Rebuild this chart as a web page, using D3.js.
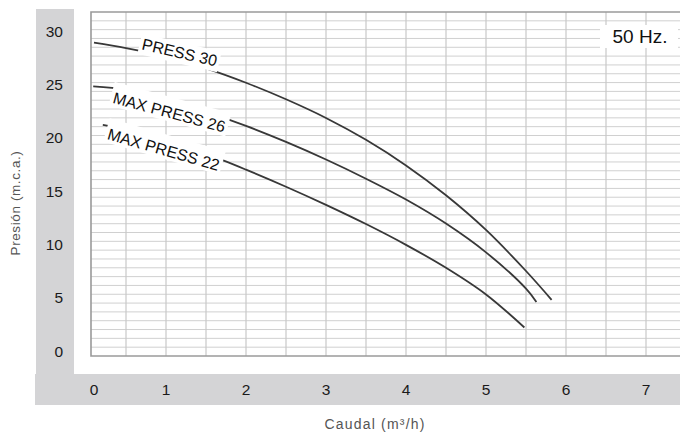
<!DOCTYPE html>
<html>
<head>
<meta charset="utf-8">
<script src="https://cdn.jsdelivr.net/npm/d3@7"></script>
<style>
  body { margin: 0; background: #fff; }
  svg { display: block; font-family: "Liberation Sans", Arial, Helvetica, sans-serif; }
</style>
</head>
<body>
<svg id="chart" width="680" height="433"></svg>
<script>
// caudal (m3/h) y presion (m.c.a.)
var flowPress30 = [0.1, 0.5, 1.0, 1.5, 2.0, 2.5, 3.0, 3.5, 4.0, 4.5, 5.0, 5.5, 5.82];
var headPress30 = [28.9, 28.4, 27.6, 26.5, 25.15, 23.6, 21.85, 19.8, 17.4, 14.6, 11.35, 7.5, 4.8];

var flowMax26 = [0.09, 0.5, 1.0, 1.5, 2.0, 2.5, 3.0, 3.5, 4.0, 4.5, 5.0, 5.5, 5.63];
var headMax26 = [24.8, 24.5, 23.6, 22.45, 21.1, 19.6, 17.95, 16.15, 14.2, 11.95, 9.25, 5.85, 4.6];

var flowMax22 = [0.21, 0.5, 1.0, 1.5, 2.0, 2.5, 3.0, 3.5, 4.0, 4.5, 5.0, 5.48];
var headMax22 = [21.2, 20.8, 19.8, 18.5, 17.0, 15.4, 13.7, 11.9, 9.95, 7.8, 5.3, 2.2];

var seriesNames = ["PRESS 30", "MAX PRESS 26", "MAX PRESS 22"];
var xTicks = [0, 1, 2, 3, 4, 5, 6, 7];
var yTicks = [0, 5, 10, 15, 20, 25, 30];

var svg = d3.select("#chart");
var W = 680, plotLeft = 91, plotTop = 12, plotBottom = 356;

var x = d3.scaleLinear().domain([0, 7]).range([86, 646]);
var y = d3.scaleLinear().domain([0, 30]).range([351, 31]);
// the printed grid has 39 rows, not tied to the tick values
var gridY = d3.scaleLinear().domain([0, 39]).range([plotBottom, plotTop]);

// grey L-shaped band for the tick labels
svg.append("rect").attr("x", 36).attr("y", 9).attr("width", 38).attr("height", 365).attr("fill", "#d4d4d6");
svg.append("rect").attr("x", 35).attr("y", 374).attr("width", W - 35).attr("height", 31).attr("fill", "#d4d4d6");

var g = svg.append("g");

// grid
g.selectAll(".hgrid")
    .data(d3.range(1, 39))
    .enter().append("line")
    .attr("x1", plotLeft).attr("x2", W)
    .attr("y1", function(d) { return gridY(d); })
    .attr("y2", function(d) { return gridY(d); })
    .attr("stroke", "#d0d0d0").attr("stroke-width", 1);

g.selectAll(".vgrid")
    .data(d3.range(0.5, 7.01, 0.5))
    .enter().append("line")
    .attr("x1", function(d) { return x(d); })
    .attr("x2", function(d) { return x(d); })
    .attr("y1", plotTop).attr("y2", plotBottom)
    .attr("stroke", "#c8c8c8").attr("stroke-width", 1.2);

// frame (no right side)
g.append("path")
    .attr("d", "M" + W + "," + plotTop + "H" + plotLeft + "V" + plotBottom + "H" + W)
    .attr("fill", "none").attr("stroke", "#9a9a9a").attr("stroke-width", 1.6);

// tick labels
svg.selectAll(".ylab")
    .data(yTicks)
    .enter().append("text")
    .attr("x", 63)
    .attr("y", function(d) { return y(d); })
    .attr("dy", "0.36em")
    .attr("text-anchor", "end")
    .attr("font-size", 15.5)
    .attr("fill", "#1a1a1a")
    .text(function(d) { return d; });

svg.selectAll(".xlab")
    .data(xTicks)
    .enter().append("text")
    .attr("x", function(d) { return Math.max(x(d), 94); })
    .attr("y", 395)
    .attr("text-anchor", "middle")
    .attr("font-size", 15.5)
    .attr("fill", "#1a1a1a")
    .text(function(d) { return d; });

// axis titles
svg.append("text")
    .attr("transform", "translate(20,203) rotate(-90)")
    .attr("text-anchor", "middle")
    .attr("font-size", 13.5)
    .attr("letter-spacing", 0.6)
    .attr("fill", "#555")
    .text("Presión (m.c.a.)");

svg.append("text")
    .attr("x", 375).attr("y", 429)
    .attr("text-anchor", "middle")
    .attr("font-size", 14)
    .attr("letter-spacing", 1.2)
    .attr("fill", "#555")
    .text("Caudal (m³/h)");

// curves
var curves = [
    d3.zip(flowPress30, headPress30),
    d3.zip(flowMax26, headMax26),
    d3.zip(flowMax22, headMax22)
];

var line = d3.line()
    .x(function(d) { return x(d[0]); })
    .y(function(d) { return y(d[1]); })
    .curve(d3.curveCatmullRom.alpha(0.5));

g.selectAll(".curve")
    .data(curves)
    .enter().append("path")
    .attr("d", line)
    .attr("fill", "none")
    .attr("stroke", "#383838")
    .attr("stroke-width", 1.8);

// curve labels in white boxes laid over the lines
// [flow, head, angle, box top, box bottom]
var labelPos = [[1.17, 28.0, 13, -10, 11], [1.04, 22.4, 15, -15, 9], [0.97, 18.9, 16, -15, 9]];
var labels = g.selectAll(".clab")
    .data(seriesNames)
    .enter().append("g")
    .attr("transform", function(d, i) {
        var p = labelPos[i];
        return "translate(" + x(p[0]) + "," + y(p[1]) + ") rotate(" + p[2] + ")";
    });

labels.append("text")
    .attr("text-anchor", "middle")
    .attr("dy", "0.36em")
    .attr("font-size", 16)
    .attr("fill", "#111")
    .text(function(d) { return d; });

labels.each(function(d, i) {
    var lab = d3.select(this);
    var w = lab.select("text").node().getBBox().width + 5;
    var p = labelPos[i];
    lab.insert("rect", "text")
        .attr("x", -w / 2).attr("y", p[3])
        .attr("width", w).attr("height", p[4] - p[3])
        .attr("fill", "#fff");
});

// frequency box
svg.append("rect").attr("x", 600).attr("y", 25).attr("width", 78).attr("height", 23).attr("fill", "#fff");
svg.append("text")
    .attr("x", 640).attr("y", 43)
    .attr("text-anchor", "middle")
    .attr("font-size", 19)
    .attr("fill", "#111")
    .text("50 Hz.");
</script>
</body>
</html>
